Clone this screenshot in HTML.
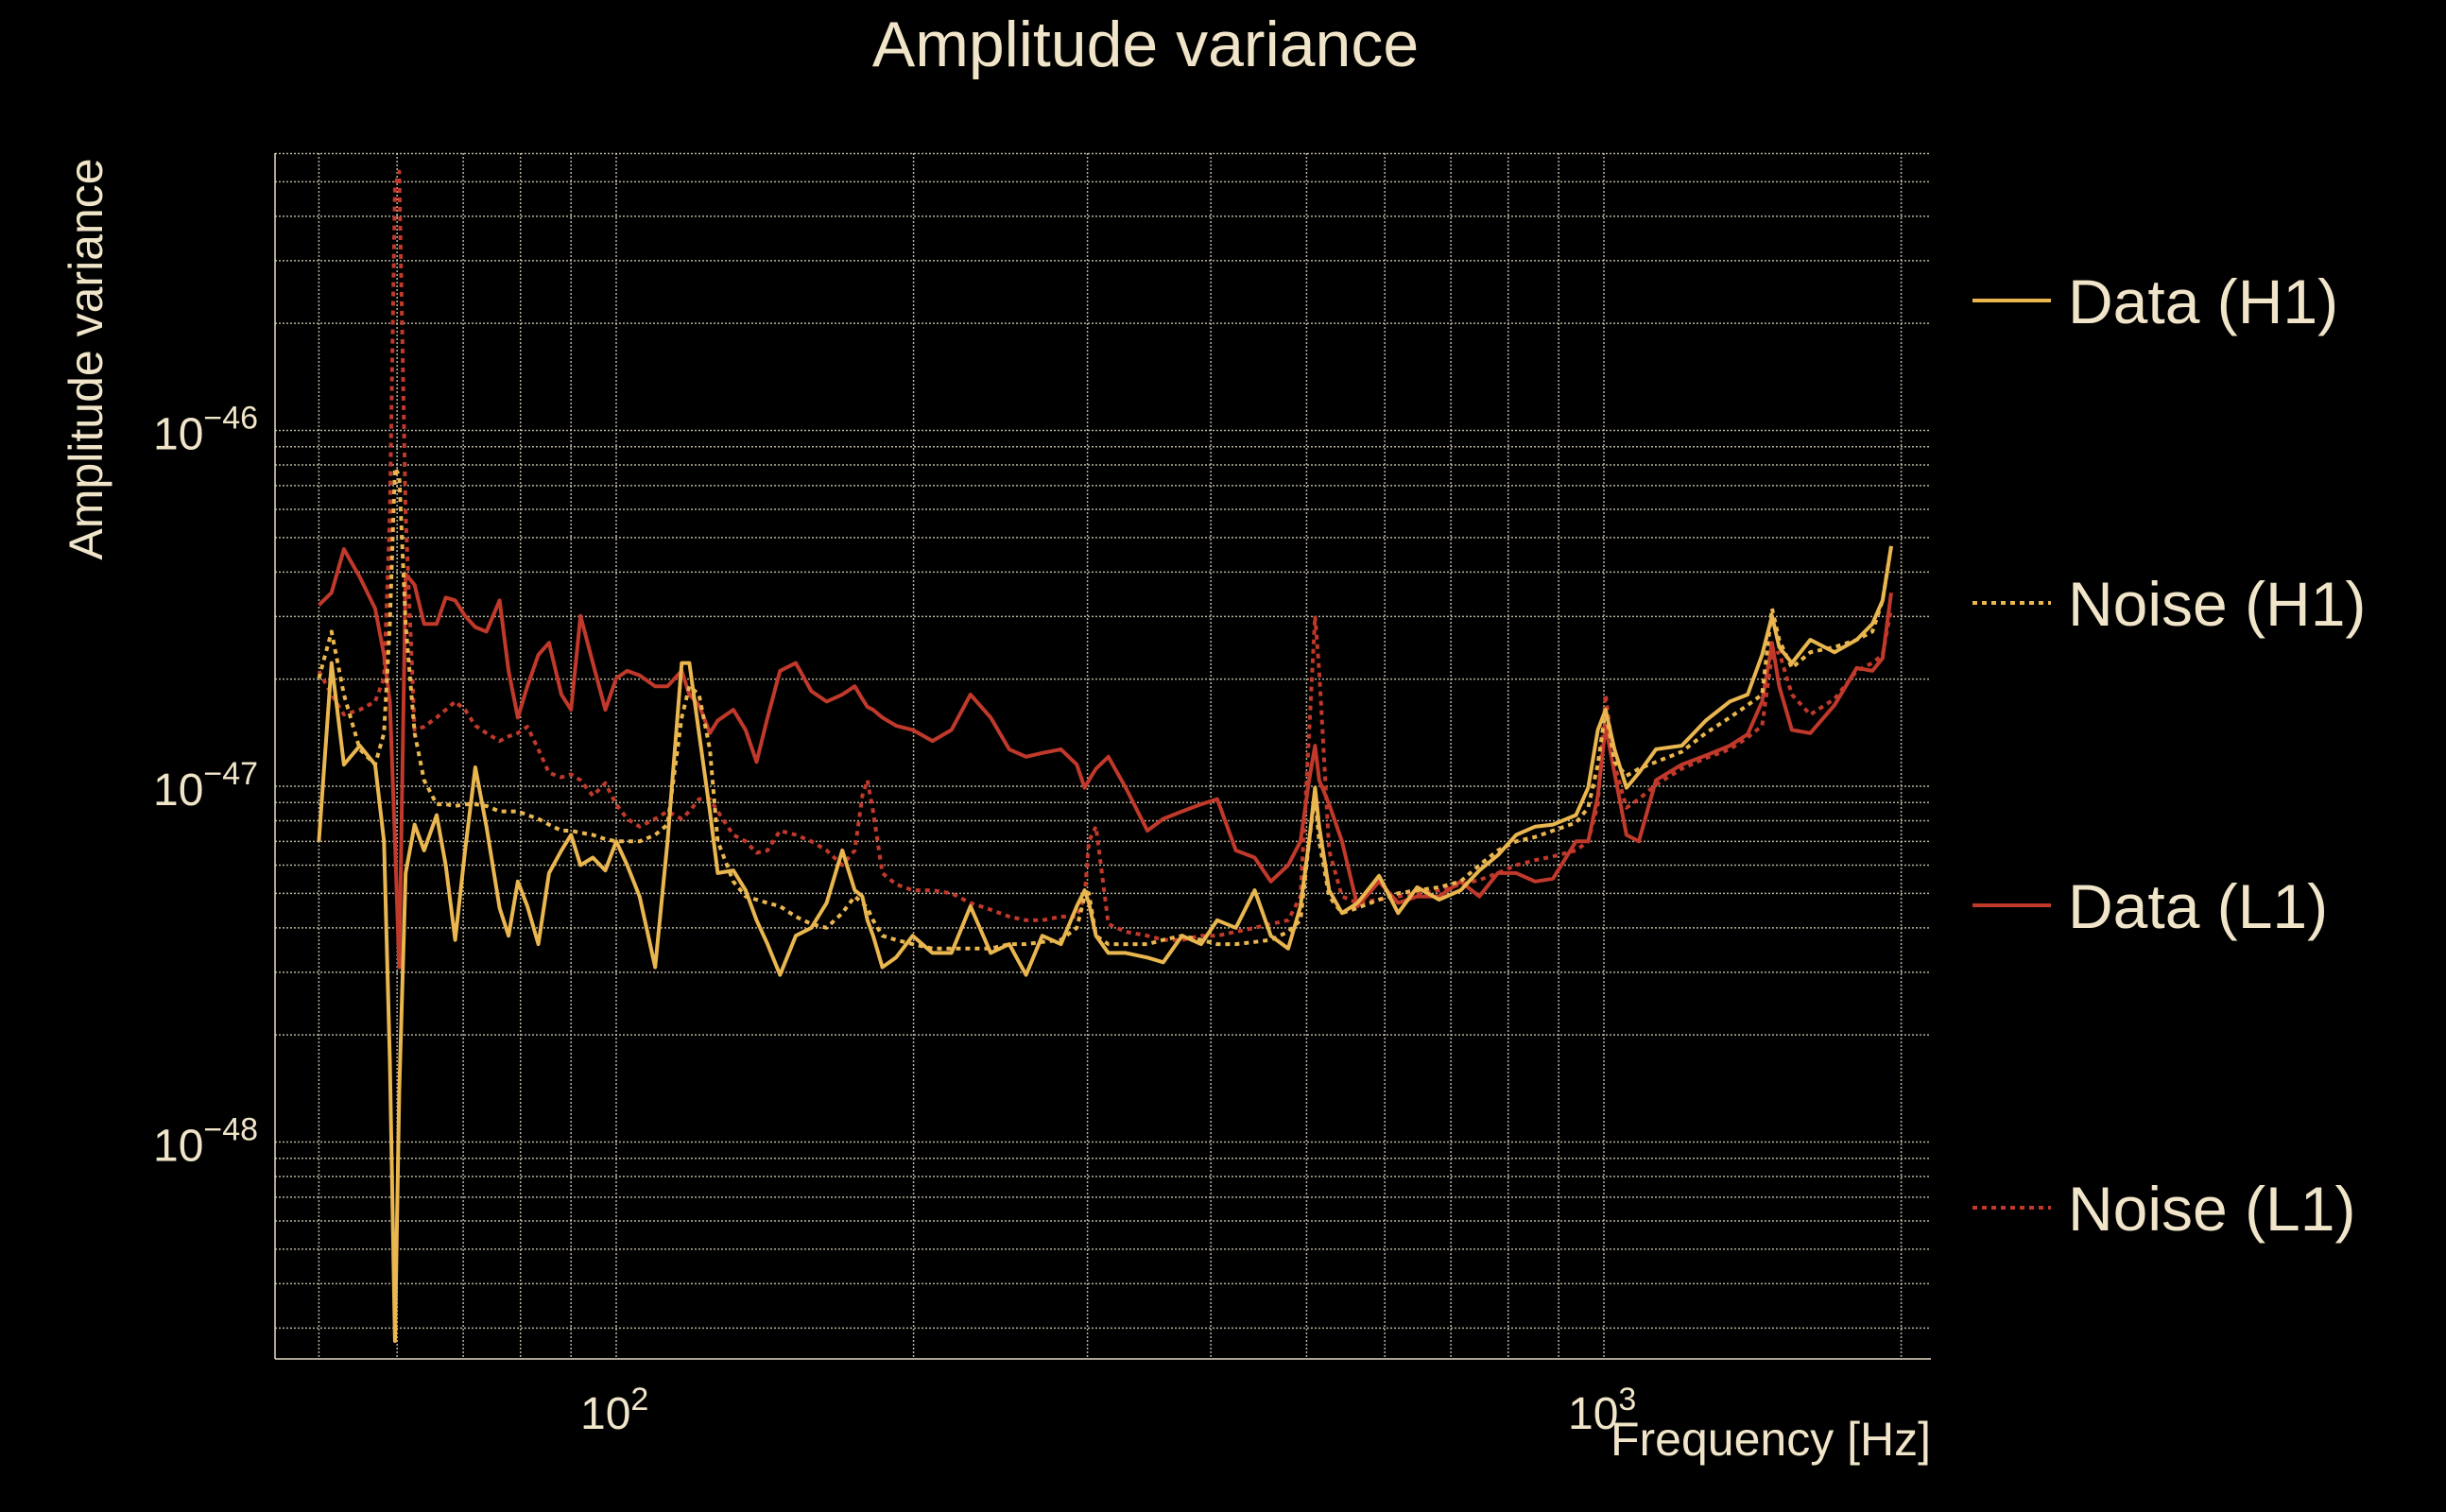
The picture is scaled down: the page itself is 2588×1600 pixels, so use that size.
<!DOCTYPE html>
<html><head><meta charset="utf-8"><style>
html,body{margin:0;padding:0;background:#000;}
svg{display:block;}
text{font-family:"Liberation Sans",sans-serif;fill:#f1e5c9;}
</style></head><body>
<svg id="chart" width="2588" height="1600" viewBox="0 0 2588 1600" xmlns="http://www.w3.org/2000/svg">
<rect width="2588" height="1600" fill="#000"/>
<g id="grid"></g>
<g id="series"></g>
<g id="axes"></g>
<text x="1212" y="70" font-size="68" text-anchor="middle">Amplitude variance</text>
<text transform="translate(108,380) rotate(-90)" font-size="50" text-anchor="middle">Amplitude variance</text>
<text x="2043" y="1540" font-size="50" text-anchor="end">Frequency [Hz]</text>
<g id="legend"></g>
</svg>
<script>
const freqs = [50,51.5,53,55,57,58.2,59,59.7,60.3,61.2,62.5,63.9,65.8,67.2,68.7,70.3,72,73.9,76.2,77.8,79.5,81.3,83.4,85.5,88,90,92,94.7,97.5,100,102.6,105.6,109.5,112.7,116.5,118.6,121.3,124.4,126.7,131.4,135.2,138.7,142.3,146.5,152,157.6,163.3,169.4,174.4,177.5,179.6,182,186,192,199.6,209,218.5,228.4,239.4,250,260,270,282,292.6,298,301,306,315,328,345,358,374,391,406,424,443,460,479,493,503,510,515,527,543,563,592,619,647,681,716,748,781,815,852,888,937,964,986,1004,1025,1054,1085,1129,1199,1268,1341,1398,1446,1480,1505,1550,1618,1712,1803,1870,1915,1954];
// values in units of 1e-47
const dataH1 = [0.70,2.22,1.15,1.30,1.15,0.70,0.169,0.0276,0.138,0.57,0.78,0.66,0.83,0.60,0.37,0.66,1.13,0.77,0.455,0.38,0.54,0.46,0.36,0.57,0.66,0.73,0.60,0.63,0.58,0.70,0.60,0.49,0.31,0.70,2.22,2.22,1.41,0.85,0.57,0.58,0.51,0.42,0.36,0.295,0.38,0.40,0.47,0.66,0.51,0.49,0.42,0.38,0.31,0.33,0.38,0.34,0.34,0.46,0.34,0.36,0.295,0.38,0.36,0.46,0.51,0.47,0.38,0.34,0.34,0.33,0.32,0.38,0.36,0.42,0.40,0.51,0.38,0.35,0.46,0.70,0.99,0.77,0.51,0.44,0.47,0.56,0.44,0.52,0.48,0.51,0.58,0.64,0.73,0.77,0.78,0.83,0.99,1.44,1.64,1.27,0.99,1.09,1.27,1.30,1.53,1.73,1.81,2.34,3.01,2.46,2.22,2.58,2.38,2.58,2.86,3.33,4.73];
const noiseH1 = [2.01,2.72,1.81,1.27,1.15,1.41,2.86,7.85,7.46,2.86,1.41,1.04,0.89,0.89,0.88,0.89,0.89,0.88,0.85,0.85,0.85,0.83,0.81,0.78,0.75,0.75,0.74,0.73,0.71,0.70,0.70,0.70,0.73,0.78,1.56,1.91,1.81,1.27,0.70,0.54,0.49,0.48,0.47,0.46,0.43,0.41,0.40,0.44,0.49,0.47,0.455,0.42,0.38,0.37,0.36,0.35,0.35,0.35,0.35,0.36,0.36,0.365,0.37,0.40,0.49,0.50,0.38,0.36,0.36,0.36,0.37,0.38,0.37,0.36,0.36,0.365,0.37,0.39,0.42,0.70,0.94,0.70,0.49,0.44,0.455,0.48,0.50,0.51,0.52,0.54,0.60,0.66,0.70,0.72,0.75,0.79,0.87,1.15,1.64,1.17,1.07,1.12,1.17,1.25,1.41,1.56,1.69,1.81,3.16,2.58,2.15,2.38,2.46,2.58,2.72,3.33,4.73];
const dataL1 = [3.23,3.50,4.64,3.87,3.16,2.34,1.73,0.70,0.31,3.95,3.68,2.86,2.86,3.39,3.33,3.01,2.80,2.72,3.33,2.11,1.56,1.91,2.34,2.53,1.81,1.64,3.01,2.22,1.64,2.01,2.11,2.05,1.91,1.91,2.11,1.81,1.69,1.41,1.53,1.64,1.44,1.17,1.56,2.11,2.22,1.85,1.73,1.81,1.91,1.76,1.67,1.64,1.56,1.48,1.44,1.34,1.44,1.81,1.56,1.27,1.21,1.24,1.27,1.15,0.99,1.04,1.12,1.21,0.99,0.75,0.81,0.85,0.89,0.92,0.66,0.63,0.54,0.60,0.70,1.04,1.30,1.04,0.89,0.70,0.46,0.54,0.47,0.49,0.49,0.54,0.49,0.57,0.57,0.54,0.55,0.70,0.70,0.94,1.48,1.09,0.73,0.70,1.04,1.15,1.22,1.30,1.40,1.73,2.53,1.91,1.44,1.41,1.69,2.15,2.11,2.29,3.50];
const noiseL1 = [2.11,1.81,1.59,1.64,1.73,2.01,5.80,48.3,53.4,5.80,1.44,1.47,1.56,1.64,1.73,1.64,1.48,1.41,1.34,1.38,1.41,1.47,1.27,1.09,1.06,1.08,1.04,0.94,1.02,0.89,0.81,0.77,0.81,0.85,0.81,0.85,0.92,0.92,0.85,0.73,0.70,0.65,0.66,0.75,0.73,0.70,0.66,0.60,0.66,0.94,1.04,0.85,0.57,0.53,0.51,0.51,0.50,0.47,0.45,0.43,0.42,0.42,0.43,0.43,0.49,0.70,0.77,0.41,0.39,0.38,0.37,0.37,0.38,0.38,0.39,0.40,0.41,0.42,0.49,1.41,3.01,2.11,0.66,0.49,0.47,0.48,0.49,0.50,0.51,0.53,0.545,0.57,0.60,0.62,0.635,0.66,0.70,0.89,1.81,1.15,0.87,0.92,1.01,1.12,1.20,1.27,1.37,1.48,2.34,2.38,1.81,1.59,1.76,2.11,2.22,2.34,3.16];
const xTickVals = [100, 1000];
const xTickLabels = ["2", "3"];
const yTickVals = [-46, -47, -48];
const yTickLabels = ["\u221246", "\u221247", "\u221248"];
const legendLabels = ["Data (H1)", "Noise (H1)", "Data (L1)", "Noise (L1)"];

const NS = "http://www.w3.org/2000/svg";
const L = 291, R = 2043, T = 162, B = 1438;
function xs(f){ return 652 + (Math.log10(f) - 2) * 1045; }
// v in units of 1e-47
function ys(v){ return 832 - Math.log10(v) * 376.5; }
function mk(tag, attrs, parent){ const e = document.createElementNS(NS, tag); for (const k in attrs) e.setAttribute(k, attrs[k]); parent.appendChild(e); return e; }

const grid = document.getElementById('grid');
const gridStyle = {stroke:'#d8cfb8', 'stroke-width':1.5, 'stroke-dasharray':'2 2', opacity:0.85};
for (let d = 1; d <= 3; d++) {
  for (let m = 1; m <= 9; m++) {
    const x = xs(m * Math.pow(10, d));
    if (x < L || x > R) continue;
    const ln = mk('line', Object.assign({x1:x, x2:x, y1:T, y2:B}, gridStyle), grid);
    
    
  }
}
for (let d = -49; d <= -45; d++) {
  for (let m = 1; m <= 9; m++) {
    const y = ys(m * Math.pow(10, d + 47));
    if (y < T || y > B) continue;
    const ln = mk('line', Object.assign({x1:L, x2:R, y1:y, y2:y}, gridStyle), grid);
    
    
  }
}

const seriesG = document.getElementById('series');
const YEL = '#e9b64f', RED = '#c0392b';
const defs = [
  {arr: noiseL1, color: RED, dash: '5 5', name: 'noise-l1-line'},
  {arr: dataL1, color: RED, dash: null, name: 'data-l1-line'},
  {arr: noiseH1, color: YEL, dash: '5 5', name: 'noise-h1-line'},
  {arr: dataH1, color: YEL, dash: null, name: 'data-h1-line'}
];
defs.forEach(s => {
  const pts = s.arr.map((v, i) => xs(freqs[i]).toFixed(1) + ',' + ys(v).toFixed(1)).join(' ');
  const a = {points: pts, fill: 'none', stroke: s.color, 'stroke-width': 4, 'stroke-linejoin': 'round'};
  if (s.dash) a['stroke-dasharray'] = s.dash;
  const p = mk('polyline', a, seriesG);
  
  
});

const axes = document.getElementById('axes');
const ax1 = mk('line', {x1:L, x2:L, y1:T, y2:B, stroke:'#e6dcc4', 'stroke-width':1.5}, axes);


const ax2 = mk('line', {x1:L, x2:R, y1:B, y2:B, stroke:'#e6dcc4', 'stroke-width':1.5}, axes);



xTickVals.forEach((f, i) => {
  const t = mk('text', {x: xs(f) - 38, y: 1512, 'font-size': 48}, axes);
  
  
  t.appendChild(document.createTextNode('10'));
  const s = mk('tspan', {dy: -20, 'font-size': 34}, t);
  s.textContent = xTickLabels[i];
});
yTickVals.forEach((e, i) => {
  const y = ys(Math.pow(10, e + 47));
  const t = mk('text', {x: 162, y: y + 20, 'font-size': 48}, axes);
  
  
  t.appendChild(document.createTextNode('10'));
  const s = mk('tspan', {dy: -22, 'font-size': 34}, t);
  s.textContent = yTickLabels[i];
});

const leg = document.getElementById('legend');
const legColors = [YEL, YEL, RED, RED];
const legDash = [null, '5 5', null, '5 5'];
const legY = [318, 638, 958, 1278];
legendLabels.forEach((lab, i) => {
  const g = mk('g', {}, leg);
  
  
  const a = {x1: 2087, x2: 2170, y1: legY[i], y2: legY[i], stroke: legColors[i], 'stroke-width': 4};
  if (legDash[i]) a['stroke-dasharray'] = legDash[i];
  const ln = mk('line', a, g);
  
  
  const t = mk('text', {x: 2188, y: legY[i] + 24, 'font-size': 66}, g);
  
  
  t.textContent = lab;
});
</script>
</body></html>
